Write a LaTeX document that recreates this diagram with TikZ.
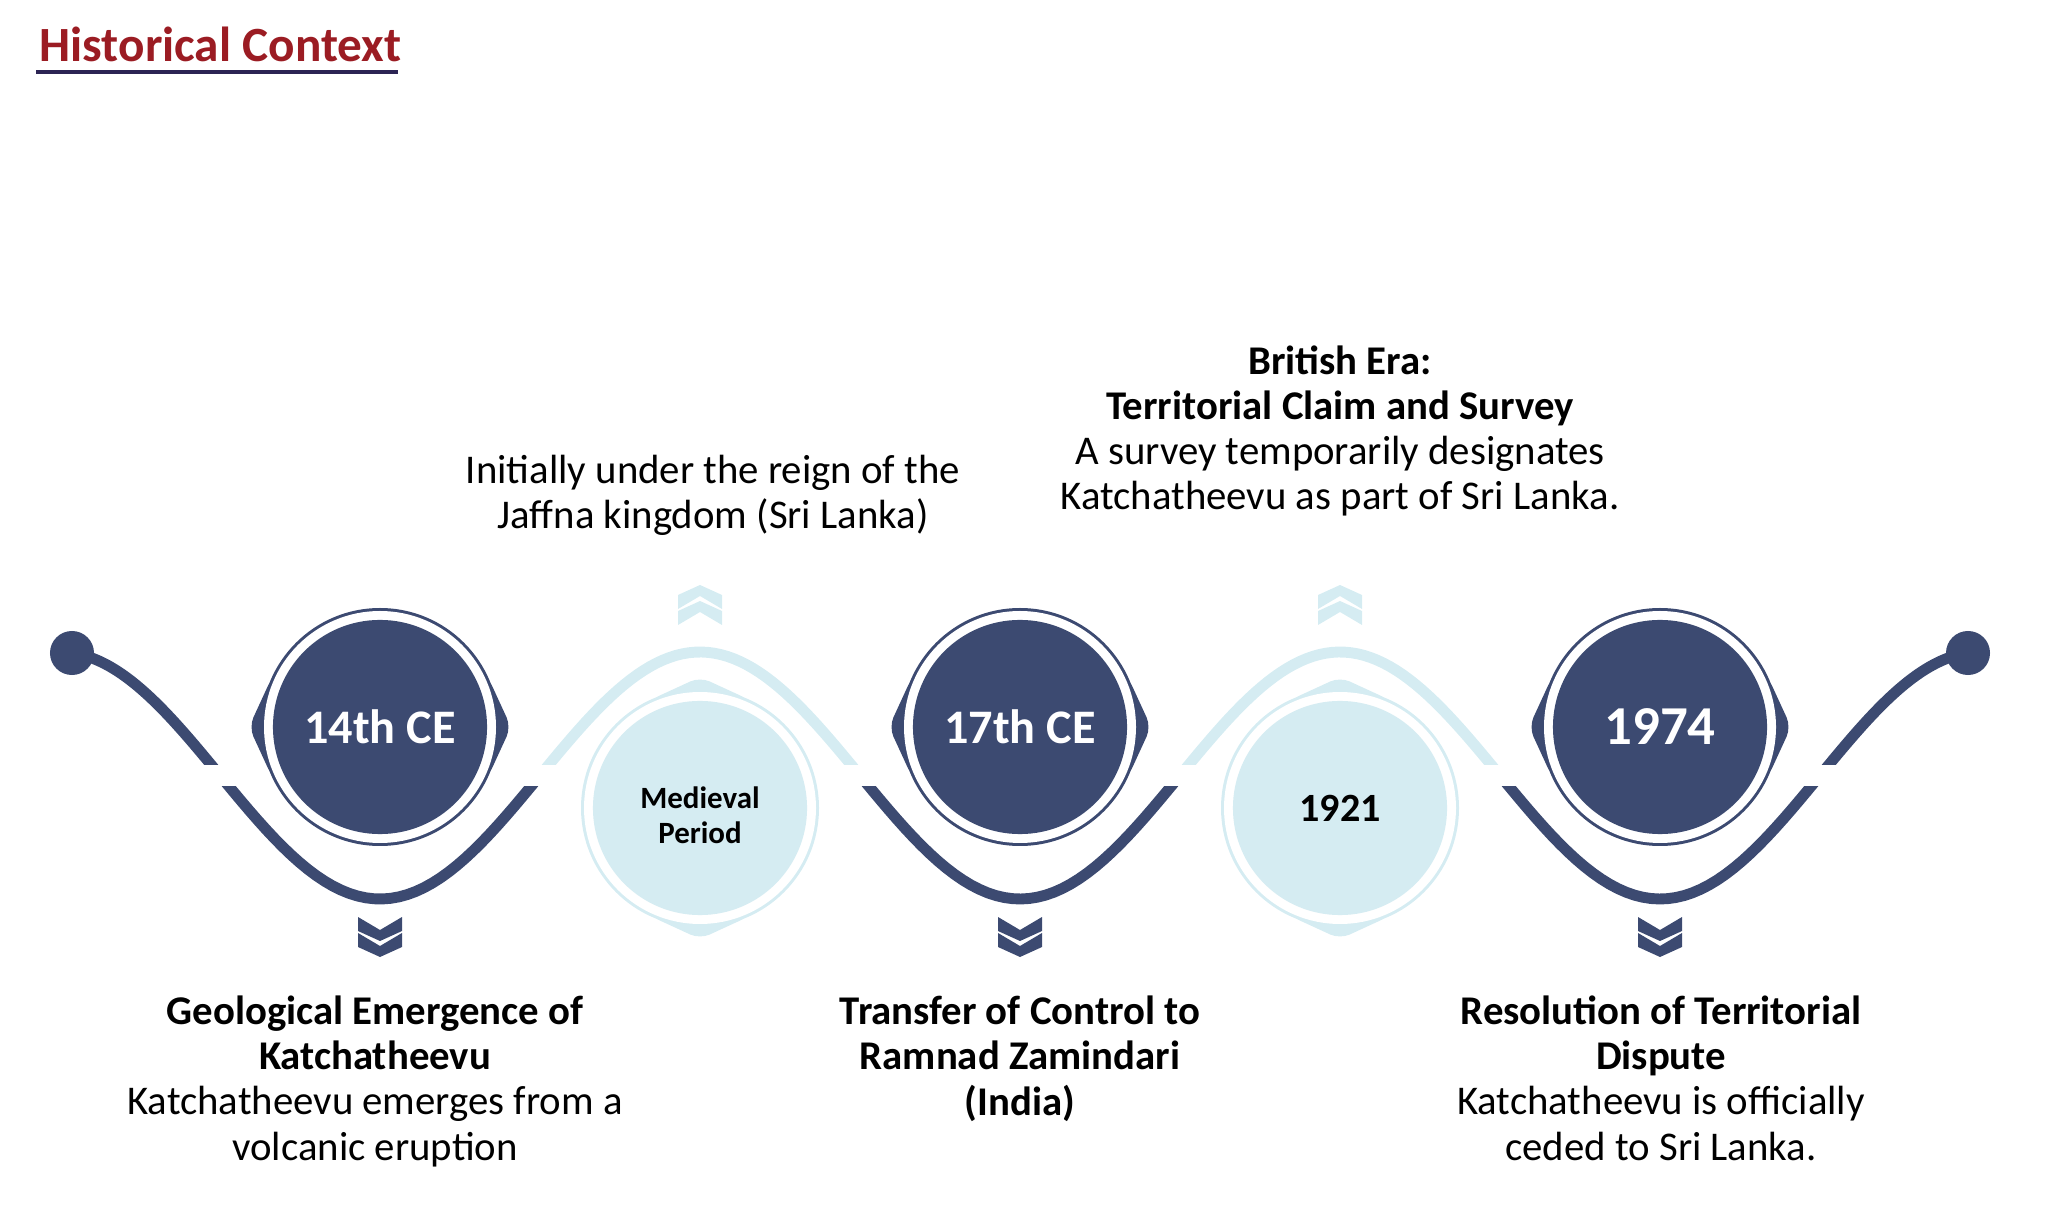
\documentclass[tikz,border=0pt]{standalone}
\usepackage{fontspec}
\setmainfont{Carlito}
\definecolor{NAVY}{HTML}{3C4A71}
\definecolor{PALE}{HTML}{D5ECF2}
\definecolor{HEADRED}{HTML}{9B1C23}
\definecolor{RULE}{HTML}{2C2454}

\begin{document}
\begin{tikzpicture}[
    x=0.01cm, y=-0.01cm,
    wavepath/.style={line width=3.1pt},
    darkdisc/.style={circle, fill=NAVY, text=white, inner sep=0pt, minimum size=2.14cm,
      font=\bfseries\fontsize{13.7}{16}\selectfont},
    lightdisc/.style={circle, fill=PALE, text=black, inner sep=0pt, minimum size=2.14cm, align=center},
    enddot/.style={circle, fill=NAVY, inner sep=0pt, minimum size=0.44cm},
    blurb/.style={align=center, anchor=base, inner sep=0pt, text=black,
      font=\fontsize{11.6}{12.8}\selectfont},
    headline/.style={font=\bfseries\fontsize{14}{16}\selectfont, text=HEADRED, anchor=base west, inner sep=0pt},
  ]

  \useasboundingbox (0,0) rectangle (2048,1222);

  \def\wave{775.5+123.5*cos(((\x-380)/320)*180)}

  % --- title ---
  \node[headline] (title) at (39,62) {Historical Context};
  \draw[RULE, line width=1.1pt] (36,72) -- (398,72);

  % --- wave, cut by a white band ---
  \begin{scope}
    \clip (0,787) rectangle (2048,1000);
    \draw[wavepath, NAVY, domain=200:1850, samples=200] plot (\x,{\wave});
  \end{scope}
  \begin{scope}
    \clip (0,0) rectangle (380,765);
    \draw[wavepath, NAVY, domain=72:380, samples=80] plot (\x,{\wave});
  \end{scope}
  \begin{scope}
    \clip (1660,0) rectangle (2048,765);
    \draw[wavepath, NAVY, domain=1660:1968, samples=80] plot (\x,{\wave});
  \end{scope}
  \begin{scope}
    \clip (380,0) rectangle (1660,765);
    \draw[wavepath, PALE, domain=380:1660, samples=200] plot (\x,{\wave});
  \end{scope}

  \node[enddot] (startdot) at (72,653) {};
  \node[enddot] (enddot) at (1968,653) {};

  % --- rings behind the discs ---
  \coordinate (c1) at (380,727);
  \coordinate (c2) at (700,808);
  \coordinate (c3) at (1020,727);
  \coordinate (c4) at (1340,808);
  \coordinate (c5) at (1660,727);

  \foreach \c in {c1,c3,c5} {
    \fill[NAVY] (\c) circle[radius=119];
    \fill[NAVY, rounded corners=3pt] ([shift={(-108,-50)}]\c) -- ([shift={(-131,0)}]\c) -- ([shift={(-108,50)}]\c) -- cycle;
    \fill[NAVY, rounded corners=3pt] ([shift={(108,-50)}]\c) -- ([shift={(131,0)}]\c) -- ([shift={(108,50)}]\c) -- cycle;
    \fill[white] (\c) circle[radius=116];
  }
  \foreach \c in {c2,c4} {
    \fill[PALE] (\c) circle[radius=119];
    \fill[PALE, rounded corners=3pt] ([shift={(-50,-108)}]\c) -- ([shift={(0,-131)}]\c) -- ([shift={(50,-108)}]\c) -- cycle;
    \fill[PALE, rounded corners=3pt] ([shift={(-50,108)}]\c) -- ([shift={(0,131)}]\c) -- ([shift={(50,108)}]\c) -- cycle;
    \fill[white] (\c) circle[radius=116];
  }

  % --- discs ---
  \node[darkdisc] (ce14) at (c1) {14th CE};
  \node[lightdisc, font=\bfseries\fontsize{8.8}{9.7}\selectfont, text height=20pt] (medieval) at (c2) {Medieval\\Period};
  \node[darkdisc] (ce17) at (c3) {17th CE};
  \node[lightdisc, font=\bfseries\fontsize{11.4}{13}\selectfont] (y1921) at (c4) {1921};
  \node[darkdisc, font=\bfseries\fontsize{15.6}{18}\selectfont] (y1974) at (c5) {1974};

  % --- chevrons ---
  \foreach \cx in {380,1020,1660} {
    \foreach \k in {0,1} {
      \fill[NAVY] ({\cx-22},{917+16*\k}) -- (\cx,{930+16*\k}) -- ({\cx+22},{917+16*\k})
        -- ({\cx+22},{931+16*\k}) -- (\cx,{941+16*\k}) -- ({\cx-22},{931+16*\k}) -- cycle;
    }
  }
  \foreach \cx in {700,1340} {
    \foreach \k in {0,1} {
      \fill[PALE] ({\cx-22},{625-16*\k}) -- (\cx,{612-16*\k}) -- ({\cx+22},{625-16*\k})
        -- ({\cx+22},{611-16*\k}) -- (\cx,{601-16*\k}) -- ({\cx-22},{611-16*\k}) -- cycle;
    }
  }

  % --- notes (placed at the baseline of their last line) ---
  \node[blurb] (reignnote) at (713,529)
    {Initially under the reign of the\\Jaffna kingdom (Sri Lanka)};
  \node[blurb] (britishnote) at (1340,510)
    {\textbf{British Era:}\\\textbf{Territorial Claim and Survey}\\A survey temporarily designates\\Katchatheevu as part of Sri Lanka.};
  \node[blurb] (geonote) at (375,1160)
    {\textbf{Geological Emergence of}\\\textbf{Katchatheevu}\\Katchatheevu emerges from a\\volcanic eruption};
  \node[blurb] (ramnadnote) at (1020,1115)
    {\textbf{Transfer of Control to}\\\textbf{Ramnad Zamindari}\\\textbf{(India)}};
  \node[blurb] (cedenote) at (1661,1160)
    {\textbf{Resolution of Territorial}\\\textbf{Dispute}\\Katchatheevu is officially\\ceded to Sri Lanka.};

\end{tikzpicture}
\end{document}
